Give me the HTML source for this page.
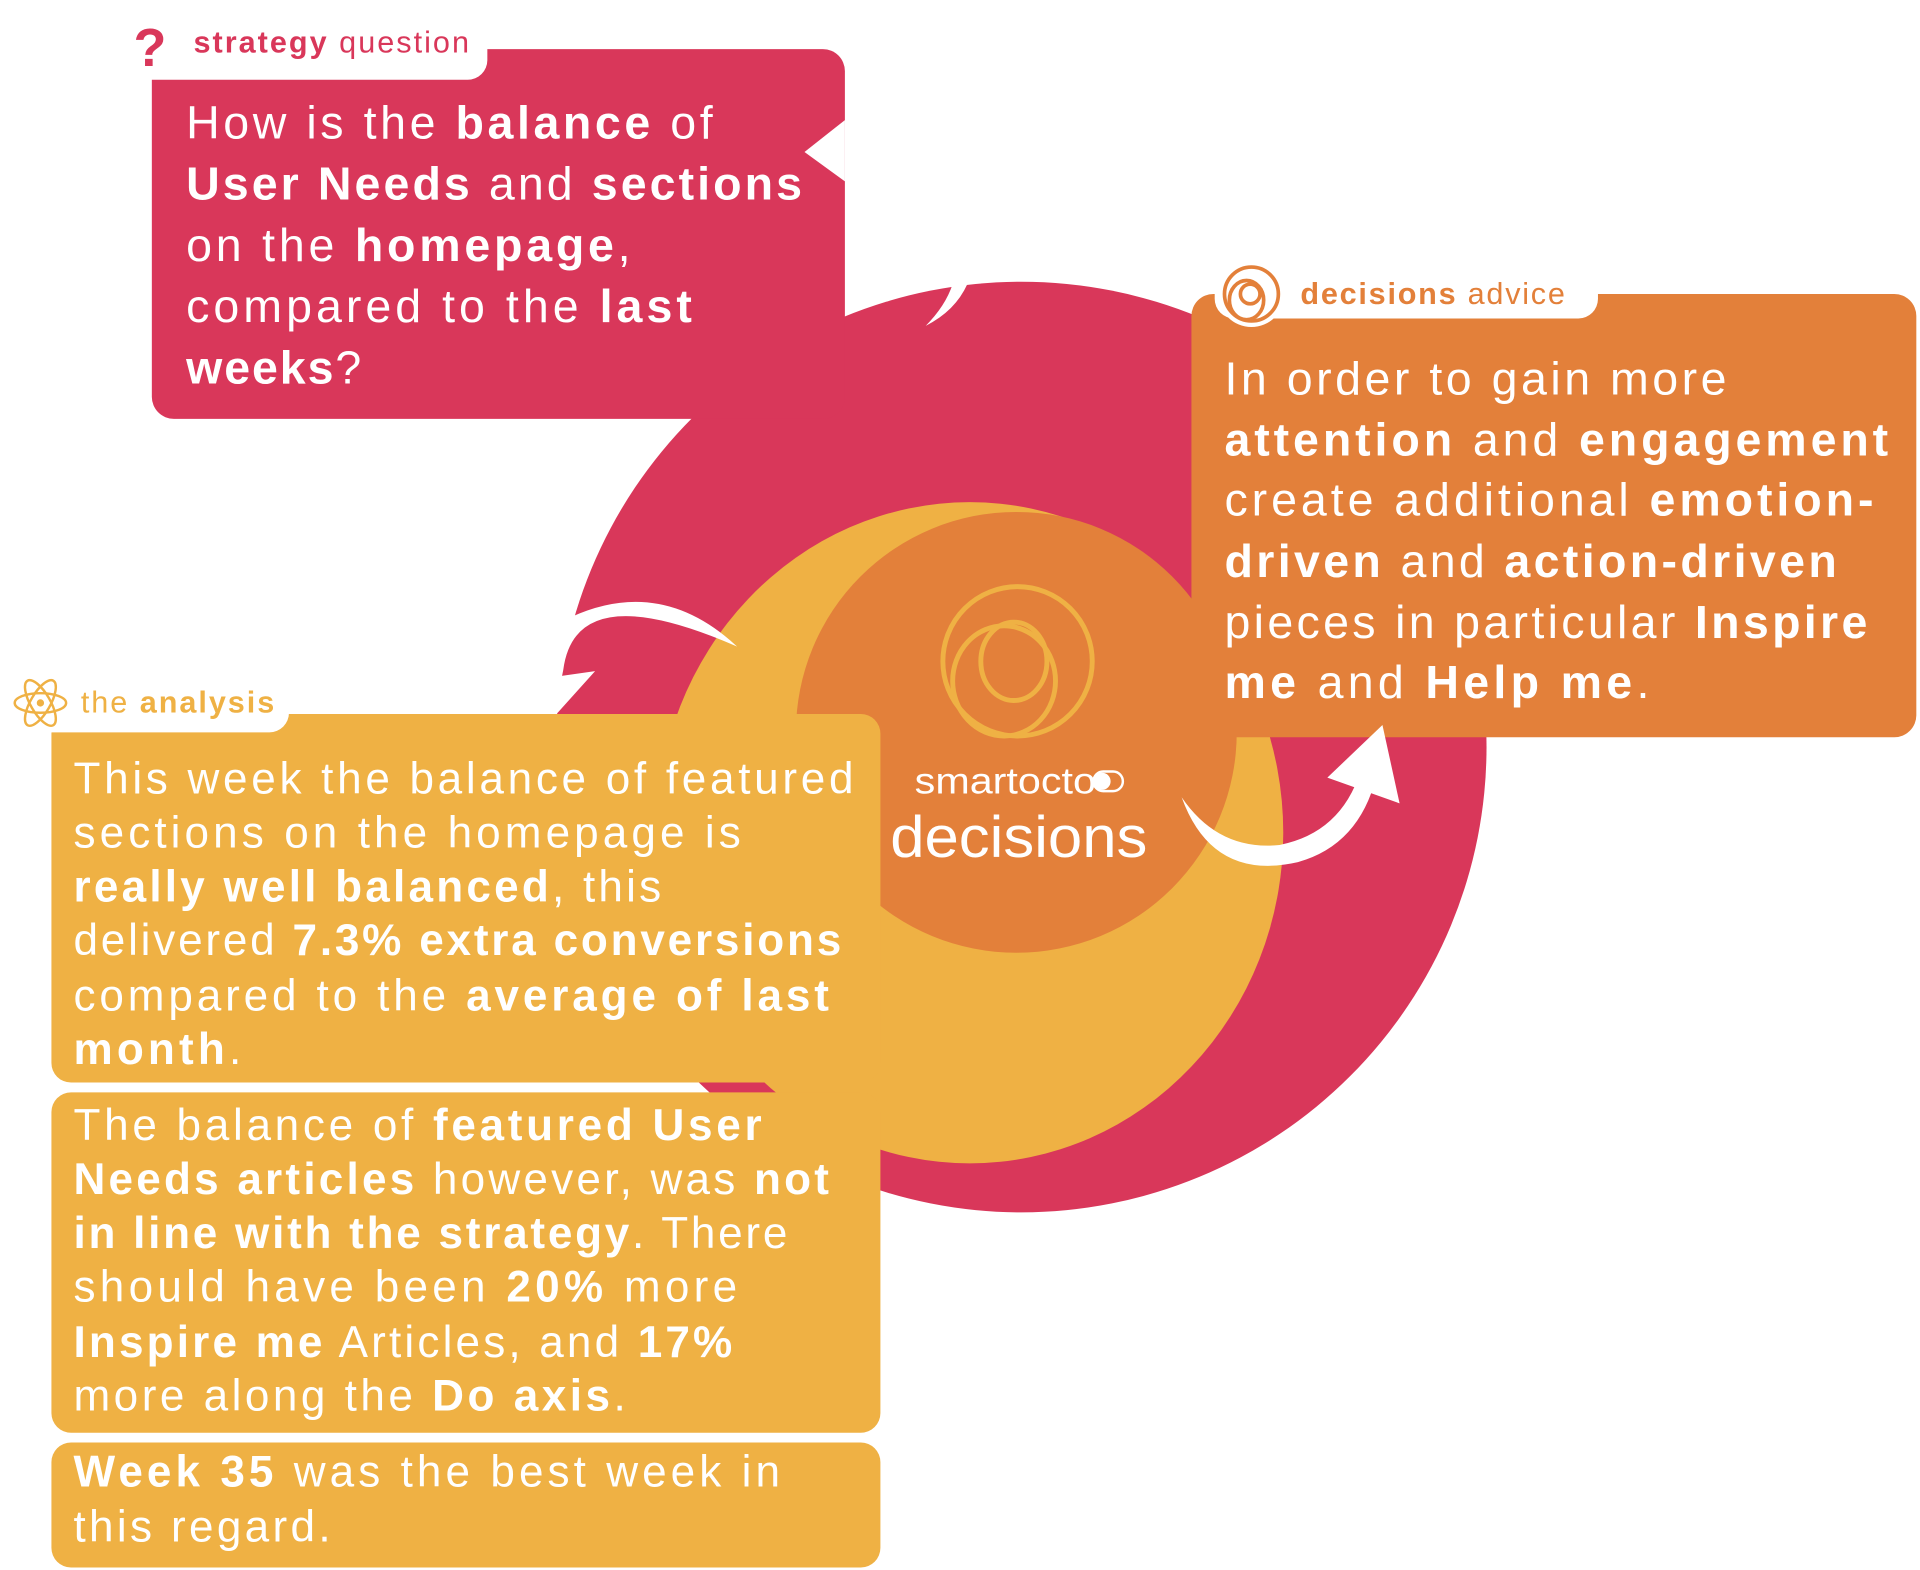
<!DOCTYPE html>
<html><head><meta charset="utf-8"><style>
html,body{margin:0;padding:0;background:#fff;}
svg{display:block}
text{font-family:"Liberation Sans",sans-serif;}
.b{font-weight:bold}
</style></head><body>
<svg width="1920" height="1570" viewBox="0 0 1568 1282" xmlns="http://www.w3.org/2000/svg">
<rect width="1568" height="1282" fill="#fff"/>
<circle cx="834" cy="610" r="380" fill="#D9375A"/>
<ellipse cx="792" cy="680" rx="256" ry="270" fill="#EFB144"/>
<circle cx="830" cy="598" r="180" fill="#E3803A"/>
<g fill="none" stroke="#EFB144" stroke-width="4">
<circle cx="831" cy="540" r="61"/>
<ellipse cx="820" cy="556" rx="42" ry="45"/>
<ellipse cx="828" cy="540" rx="27" ry="32"/>
</g>
<text x="747" y="648" font-size="30" fill="#fff" textLength="148" lengthAdjust="spacingAndGlyphs">smartocto</text>
<rect x="893" y="630" width="24" height="16" rx="8" fill="none" stroke="#fff" stroke-width="2"/>
<circle cx="900" cy="638" r="7" fill="#fff"/>
<text x="727" y="700" font-size="48" fill="#fff" textLength="210" lengthAdjust="spacingAndGlyphs">decisions</text>

<rect x="124" y="40" width="566" height="302" rx="18" fill="#D9375A"/>
<rect x="98" y="8" width="300" height="57" rx="16" fill="#fff"/>
<polygon points="690,98 657,124 690,148" fill="#fff"/>
<path d="M778,232 Q772,250 756,266 Q780,254 790,232 Z" fill="#fff"/>
<text x="109" y="54" font-size="44" class="b" fill="#D9375A">?</text>
<text x="158" y="43" font-size="25" fill="#D9375A" textLength="225" lengthAdjust="spacing"><tspan class="b">strategy</tspan> question</text>
<g fill="#fff" font-size="38">
<text x="152" y="113" textLength="430" lengthAdjust="spacing">How is the <tspan class="b">balance</tspan> of</text>
<text x="152" y="163" textLength="503" lengthAdjust="spacing"><tspan class="b">User Needs</tspan> and <tspan class="b">sections</tspan></text>
<text x="152" y="213" textLength="363" lengthAdjust="spacing">on the <tspan class="b">homepage</tspan>,</text>
<text x="152" y="263" textLength="413" lengthAdjust="spacing">compared to the <tspan class="b">last</tspan></text>
<text x="152" y="313" textLength="143" lengthAdjust="spacing"><tspan class="b">weeks</tspan>?</text>
</g>

<rect x="973" y="240" width="592" height="362" rx="18" fill="#E3803A"/>
<rect x="992" y="208" width="313" height="52" rx="16" fill="#fff"/>
<circle cx="1022" cy="240" r="27" fill="#fff"/>
<g fill="none" stroke="#E3803A" stroke-width="3">
<circle cx="1022" cy="240" r="22"/>
<ellipse cx="1018" cy="245" rx="14" ry="16"/>
<circle cx="1021" cy="240" r="8"/>
</g>
<text x="1062" y="248" font-size="25" fill="#E3803A" textLength="216" lengthAdjust="spacing"><tspan class="b">decisions</tspan> advice</text>
<g fill="#fff" font-size="38">
<text x="1000" y="322" textLength="410" lengthAdjust="spacing">In order to gain more</text>
<text x="1000" y="372" textLength="542" lengthAdjust="spacing"><tspan class="b">attention</tspan> and <tspan class="b">engagement</tspan></text>
<text x="1000" y="421" textLength="530" lengthAdjust="spacing">create additional <tspan class="b">emotion-</tspan></text>
<text x="1000" y="471" textLength="500" lengthAdjust="spacing"><tspan class="b">driven</tspan> and <tspan class="b">action-driven</tspan></text>
<text x="1000" y="521" textLength="525" lengthAdjust="spacing">pieces in particular <tspan class="b">Inspire</tspan></text>
<text x="1000" y="570" textLength="347" lengthAdjust="spacing"><tspan class="b">me</tspan> and <tspan class="b">Help me</tspan>.</text>
</g>

<path d="M460,547 Q470,470 602,528 Q540,470 466,504 Q452,525 458,557 Z" fill="#fff"/>
<polygon points="458,552 486,548 441,598" fill="#fff"/>
<path d="M965,651 Q990,720 1060,704 Q1110,690 1124,634 L1111,630 Q1095,680 1045,690 Q995,695 965,651 Z" fill="#fff"/>
<polygon points="1084,635 1129,592 1143,656" fill="#fff"/>

<rect x="42" y="583" width="677" height="301" rx="16" fill="#EFB144"/>
<rect x="42" y="892" width="677" height="278" rx="16" fill="#EFB144"/>
<rect x="42" y="1178" width="677" height="102" rx="16" fill="#EFB144"/>
<rect x="0" y="548" width="236" height="50" rx="16" fill="#fff"/>
<g fill="none" stroke="#EFB144" stroke-width="2">
<ellipse cx="33" cy="574" rx="21" ry="8"/>
<ellipse cx="33" cy="574" rx="21" ry="8" transform="rotate(60 33 574)"/>
<ellipse cx="33" cy="574" rx="21" ry="8" transform="rotate(-60 33 574)"/>
</g>
<circle cx="33" cy="574" r="3" fill="#EFB144"/>
<text x="66" y="582" font-size="25" fill="#EFB144" textLength="158" lengthAdjust="spacing">the <tspan class="b">analysis</tspan></text>
<g fill="#fff" font-size="36">
<text x="60" y="648" textLength="637" lengthAdjust="spacing">This week the balance of featured</text>
<text x="60" y="692" textLength="545" lengthAdjust="spacing">sections on the homepage is</text>
<text x="60" y="736" textLength="480" lengthAdjust="spacing"><tspan class="b">really well balanced</tspan>, this</text>
<text x="60" y="780" textLength="627" lengthAdjust="spacing">delivered <tspan class="b">7.3% extra conversions</tspan></text>
<text x="60" y="825" textLength="617" lengthAdjust="spacing">compared to the <tspan class="b">average of last</tspan></text>
<text x="60" y="869" textLength="137" lengthAdjust="spacing"><tspan class="b">month</tspan>.</text>
<text x="60" y="931" textLength="562" lengthAdjust="spacing">The balance of <tspan class="b">featured User</tspan></text>
<text x="60" y="975" textLength="617" lengthAdjust="spacing"><tspan class="b">Needs articles</tspan> however, was <tspan class="b">not</tspan></text>
<text x="60" y="1019" textLength="583" lengthAdjust="spacing"><tspan class="b">in line with the strategy</tspan>. There</text>
<text x="60" y="1063" textLength="542" lengthAdjust="spacing">should have been <tspan class="b">20%</tspan> more</text>
<text x="60" y="1108" textLength="538" lengthAdjust="spacing"><tspan class="b">Inspire me</tspan> Articles, and <tspan class="b">17%</tspan></text>
<text x="60" y="1152" textLength="451" lengthAdjust="spacing">more along the <tspan class="b">Do axis</tspan>.</text>
<text x="60" y="1214" textLength="577" lengthAdjust="spacing"><tspan class="b">Week 35</tspan> was the best week in</text>
<text x="60" y="1259" textLength="210" lengthAdjust="spacing">this regard.</text>
</g>
</svg>
</body></html>
